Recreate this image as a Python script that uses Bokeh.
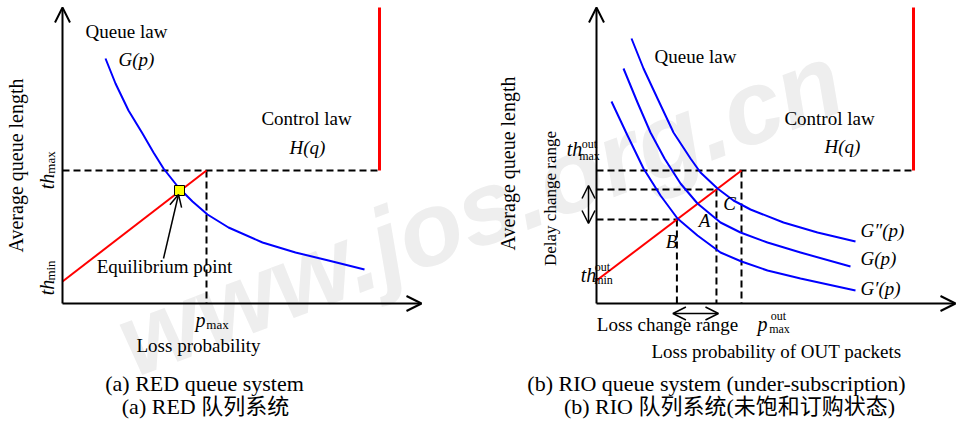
import numpy as np
from bokeh.plotting import figure
from bokeh.models import Range1d, Arrow, OpenHead
from bokeh.core.properties import value
from bokeh.embed import file_html
from bokeh.resources import INLINE

# ---------------- data: panel (a) RED ----------------
a_G_p = [43, 53, 66, 80, 91, 101, 116, 130, 145, 166, 200, 233, 266, 302]
a_G_q = [245, 220, 193, 170, 151, 135, 116, 102, 89, 76, 61, 51, 43, 34]
a_th_min = 22
a_th_max = 133
a_p_max = 144
a_control_p = 317
a_eq = (117, 113)

# ---------------- data: panel (b) RIO ----------------
b_G2_p = [35, 47, 61, 77, 94, 104, 121, 137, 154, 187, 221, 259]
b_G2_q = [265, 235, 205, 171, 145, 131, 115, 103, 94, 81, 71, 62]
b_G_p = [27, 41, 54, 68, 84, 101, 124, 144, 171, 204, 254]
b_G_q = [235, 201, 171, 145, 120, 100, 81, 71, 61, 51, 37]
b_G1_p = [15, 31, 47, 64, 81, 101, 124, 145, 171, 204, 259]
b_G1_q = [202, 168, 135, 108, 85, 68, 51, 42, 33, 25, 13]
b_th_min = 23
b_th_max = 133
b_p_max = 145
b_control_p = 317
b_q_B = 84
b_q_C = 114

axis_top = 296
axis_right = 358

# layout: panel origins
OFF_A = 0
OFF_B = 534

SERIF = value("Liberation Serif, Noto Sans CJK SC")

p = figure(width=958, height=422, x_range=Range1d(-62, 896), y_range=Range1d(-119, 303),
           output_backend="svg", toolbar_location=None,
           x_axis_location=None, y_axis_location=None, min_border=0,
           outline_line_color=None, background_fill_color="white", border_fill_color="white")
p.grid.grid_line_color = None

# watermark (kept inside the picture)
p.text(x=[417], y=[94], text=["www.jos.org.cn"], angle=0.36,
       text_font=value("Liberation Sans"), text_font_style="bold italic",
       text_font_size="104px", text_color="#eeeeee", text_align="center",
       text_baseline="middle")


def txt(x, y, s, size="19px", style="normal", align="center", angle=0.0, baseline="middle"):
    p.text(x=[x], y=[y], text=[s], text_font=SERIF, text_font_size=size,
           text_font_style=style, text_align=align, text_baseline=baseline,
           angle=angle, text_color="black")


def axes(off):
    head = dict(size=15, line_width=2, line_color="black")
    p.add_layout(Arrow(x_start=off, y_start=0, x_end=off, y_end=axis_top,
                       end=OpenHead(**head), line_width=2, line_color="black"))
    p.add_layout(Arrow(x_start=off, y_start=0, x_end=off + axis_right + 1, y_end=0,
                       end=OpenHead(**head), line_width=2, line_color="black"))


DASH = "7 4"

# ---------------- panel (a) ----------------
axes(OFF_A)
p.multi_line(xs=[[OFF_A, OFF_A + a_control_p], [OFF_A + a_p_max, OFF_A + a_p_max]],
             ys=[[a_th_max, a_th_max], [a_th_max, 0]],
             line_color="black", line_width=2, line_dash=DASH)
p.line([OFF_A, OFF_A + a_p_max], [a_th_min, a_th_max], line_color="#ff0000", line_width=2)
p.line([OFF_A + a_control_p] * 2, [a_th_max, axis_top], line_color="#ff0000", line_width=3)
p.line(np.array(a_G_p) + OFF_A, a_G_q, line_color="#0000ff", line_width=2, line_join="round")
p.add_layout(Arrow(x_start=OFF_A + 101, y_start=45, x_end=OFF_A + a_eq[0] - 1, y_end=a_eq[1] - 4,
                   end=OpenHead(size=12, line_width=1.5, line_color="black"),
                   line_width=1.5, line_color="black"))
p.scatter(x=[OFF_A + a_eq[0]], y=[a_eq[1]], marker="square", size=10,
          fill_color="#ffff00", line_color="black", line_width=1)

txt(OFF_A + 64, 272, "Queue law")
txt(OFF_A + 74, 244, "G(p)", style="italic")
txt(OFF_A + 244, 185, "Control law")
txt(OFF_A + 245, 156, "H(q)", style="italic")
txt(OFF_A + 102, 37, "Equilibrium point")
txt(OFF_A - 47, 138, "Average queue length", size="20px", angle=np.pi / 2)
txt(OFF_A - 16, 122, "th", size="20px", style="italic", angle=np.pi / 2)
txt(OFF_A - 12, 141, "max", size="13px", angle=np.pi / 2)
txt(OFF_A - 16, 16, "th", size="20px", style="italic", angle=np.pi / 2)
txt(OFF_A - 12, 33, "min", size="13px", angle=np.pi / 2)
txt(OFF_A + 138, -16, "p", size="20px", style="italic")
txt(OFF_A + 155, -21, "max", size="13px")
txt(OFF_A + 136, -42, "Loss probability")
txt(OFF_A + 142, -80, "(a) RED queue system", size="22px")
txt(OFF_A + 143, -103, "(a) RED 队列系统", size="22px")

# ---------------- panel (b) ----------------
b_p_B = (b_q_B - b_th_min) / (b_th_max - b_th_min) * b_p_max
b_p_C = (b_q_C - b_th_min) / (b_th_max - b_th_min) * b_p_max

axes(OFF_B)
p.multi_line(xs=[[OFF_B, OFF_B + b_control_p], [OFF_B + b_p_max, OFF_B + b_p_max],
                 [OFF_B, OFF_B + b_p_C], [OFF_B + b_p_C, OFF_B + b_p_C],
                 [OFF_B, OFF_B + b_p_B], [OFF_B + b_p_B, OFF_B + b_p_B]],
             ys=[[b_th_max, b_th_max], [b_th_max, 0],
                 [b_q_C, b_q_C], [b_q_C, 0],
                 [b_q_B, b_q_B], [b_q_B, 0]],
             line_color="black", line_width=2, line_dash=DASH)
p.line([OFF_B, OFF_B + b_p_max], [b_th_min, b_th_max], line_color="#ff0000", line_width=2)
p.line([OFF_B + b_control_p] * 2, [b_th_max, axis_top], line_color="#ff0000", line_width=3)
for gp, gq in ((b_G2_p, b_G2_q), (b_G_p, b_G_q), (b_G1_p, b_G1_q)):
    p.line(np.array(gp) + OFF_B, gq, line_color="#0000ff", line_width=2, line_join="round")

dh = dict(size=13, line_width=1.5, line_color="black")
p.add_layout(Arrow(x_start=OFF_B - 8, y_start=b_q_B - 4, x_end=OFF_B - 8, y_end=b_q_C + 4,
                   start=OpenHead(**dh), end=OpenHead(**dh), line_width=1.5, line_color="black"))
p.add_layout(Arrow(x_start=OFF_B + b_p_B - 4, y_start=-10, x_end=OFF_B + b_p_C + 2, y_end=-10,
                   start=OpenHead(**dh), end=OpenHead(**dh), line_width=1.5, line_color="black"))

txt(OFF_B + 99, 247, "Queue law")
txt(OFF_B + 233, 185, "Control law")
txt(OFF_B + 246, 157, "H(q)", style="italic")
txt(OFF_B + 264, 73, "G\u2033(p)", style="italic", align="left")
txt(OFF_B + 264, 45, "G(p)", style="italic", align="left")
txt(OFF_B + 264, 15, "G\u2032(p)", style="italic", align="left")
txt(OFF_B + 75, 62, "B", style="italic")
txt(OFF_B + 108, 83, "A", style="italic")
txt(OFF_B + 133, 100, "C", style="italic")
txt(OFF_B - 89, 140, "Average queue length", size="20px", angle=np.pi / 2)
txt(OFF_B - 46, 105, "Delay change range", size="17px", angle=np.pi / 2)
txt(OFF_B - 22, 155, "th", size="20px", style="italic")
txt(OFF_B - 7, 160, "out", size="12px")
txt(OFF_B - 7, 148, "max", size="12px")
txt(OFF_B - 8, 29, "th", size="20px", style="italic")
txt(OFF_B + 6, 37, "out", size="12px")
txt(OFF_B + 7, 24, "min", size="12px")
txt(OFF_B + 166, -20, "p", size="20px", style="italic")
txt(OFF_B + 182, -12, "out", size="12px")
txt(OFF_B + 183, -25, "max", size="12px")
txt(OFF_B + 71, -21, "Loss change range")
txt(OFF_B + 180, -48, "Loss probability of OUT packets")
txt(OFF_B + 120, -80, "(b) RIO queue system (under-subscription)", size="22px")
txt(OFF_B + 133, -103, "(b) RIO 队列系统(未饱和订购状态)", size="22px")

open("out.html", "w").write(file_html(p, INLINE))
